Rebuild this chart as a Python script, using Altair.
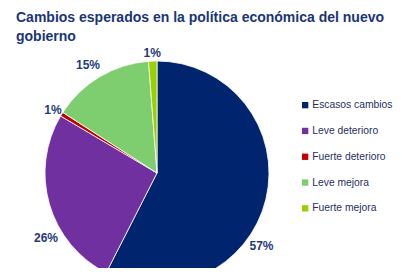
import altair as alt
import pandas as pd

categories = ["Escasos cambios", "Leve deterioro", "Fuerte deterioro", "Leve mejora", "Fuerte mejora"]
values = [57.5, 26.0, 0.6, 14.7, 1.2]
labels = ["57%", "26%", "1%", "15%", "1%"]
colors = ["#00246E", "#7030A0", "#C00000", "#7ECE70", "#99D100"]

df = pd.DataFrame({"cat": categories, "val": values, "lab": labels, "idx": list(range(len(categories)))})

color = alt.Color("cat:N", scale=alt.Scale(domain=categories, range=colors),
                  legend=alt.Legend(title=None, orient="none", legendX=284, legendY=44,
                                    symbolType="square", symbolSize=40, symbolStrokeWidth=0,
                                    labelFontSize=10.3, labelFont="Liberation Sans", labelColor="#1F2F5F",
                                    rowPadding=14.8, labelOffset=2))

base = alt.Chart(df).encode(
    theta=alt.Theta("val:Q", stack=True),
    order=alt.Order("idx:Q"),
)

CX, CY = 141, 117

pie = base.mark_arc(outerRadius=112, stroke="white", strokeWidth=0.8).encode(
    color=color, x=alt.value(CX), y=alt.value(CY))

txt_style = dict(radius=127, font="Liberation Sans", fontSize=12, fontWeight="bold", color="#1F3A7A")


def lab(cat, dx=0, dy=0):
    return alt.Chart(df).transform_stack(
        stack="val", groupby=[], as_=["s0", "s1"], sort=[alt.SortField("idx")]
    ).transform_calculate(
        mid="(datum.s0 + datum.s1) / 2"
    ).transform_filter(alt.datum.cat == cat).mark_text(dx=dx, dy=dy, **txt_style).encode(
        theta=alt.Theta("mid:Q", scale=alt.Scale(domain=[0, 100], range=[0, 6.283185307])),
        text="lab:N", x=alt.value(CX), y=alt.value(CY))


layers = [pie,
          lab("Escasos cambios", -19, 43),
          lab("Leve deterioro", 11, 30),
          lab("Fuerte deterioro", 4, 4),
          lab("Leve mejora", -4, 1),
          lab("Fuerte mejora", 0, 7)]

chart = alt.layer(*layers).resolve_scale(theta="independent").properties(
    width=378, height=212,
    autosize=alt.AutoSizeParams(type="none"),
    padding={"left": 8, "top": 48, "right": 0, "bottom": 0},
    title=alt.TitleParams(text=["Cambios esperados en la política económica del nuevo", "gobierno"],
                          anchor="start", fontSize=14, font="Liberation Sans", fontWeight="bold",
                          color="#1A3578", offset=3, lineHeight=19),
).configure_view(stroke=None)

chart.save("out.html", embed_options={"renderer": "svg", "actions": False})
